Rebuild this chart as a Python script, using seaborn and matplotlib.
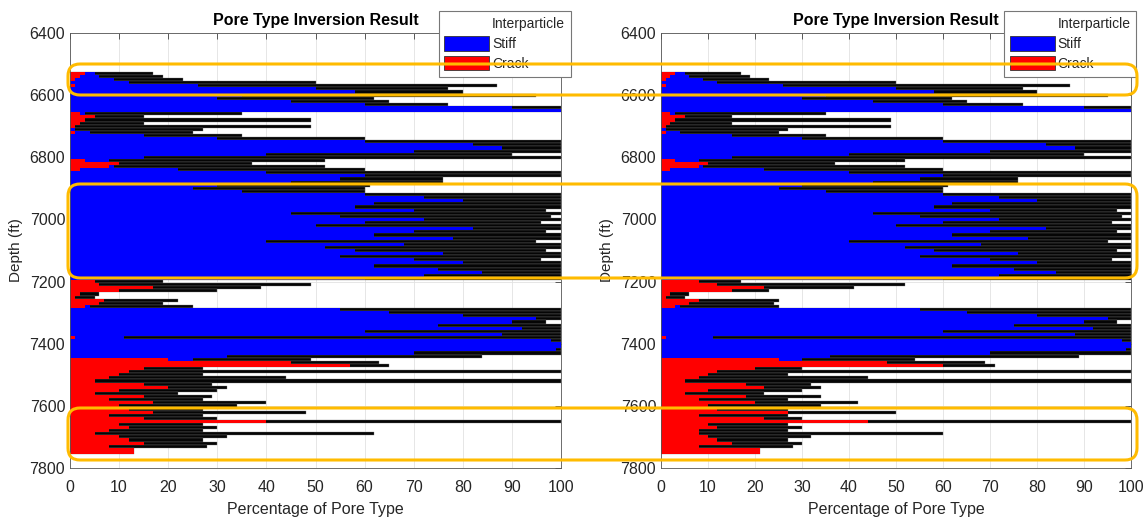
import pandas as pd
import matplotlib.pyplot as plt
import seaborn as sns
from matplotlib.patches import Patch, FancyBboxPatch
from matplotlib.transforms import IdentityTransform

# muestreo en profundidad (ft)
depth = list(range(6530, 7760, 10))

crack = [3, 2, 1, 0, 1, 0, 0, 0, 0, 0,
         0, 0, 0, 2, 5, 3, 2, 1, 0, 1,
         0, 0, 0, 0, 0, 0, 0, 0, 3, 10,
         8, 2, 0, 0, 0, 0, 0, 0, 0, 0,
         0, 0, 0, 0, 0, 0, 0, 0, 0, 0,
         0, 0, 0, 0, 0, 0, 0, 0, 0, 0,
         0, 0, 0, 0, 0, 0, 0, 5, 6, 17,
         10, 2, 1, 7, 6, 3, 0, 0, 0, 0,
         0, 0, 0, 0, 0, 1, 0, 0, 0, 0,
         0, 0, 20, 45, 57, 15, 12, 10, 8, 5,
         15, 20, 10, 5, 15, 8, 17, 10, 12, 17,
         8, 15, 40, 10, 12, 8, 5, 10, 12, 15,
         8, 13, 13]

stiff = [2, 4, 8, 12, 25, 50, 58, 35, 30, 45,
         60, 90, 100, 1, 0, 0, 0, 0, 1, 3,
         15, 30, 60, 82, 88, 70, 40, 15, 5, 0,
         1, 20, 40, 60, 55, 45, 30, 25, 35, 60,
         72, 80, 62, 58, 70, 45, 55, 72, 60, 50,
         82, 70, 62, 78, 40, 68, 52, 58, 76, 55,
         70, 80, 62, 75, 84, 72, 60, 0, 0, 0,
         0, 0, 0, 0, 0, 1, 55, 65, 80, 95,
         90, 75, 92, 60, 88, 10, 98, 100, 100, 99,
         70, 32, 5, 0, 0, 0, 0, 0, 0, 0,
         0, 0, 0, 0, 0, 0, 0, 0, 0, 0,
         0, 0, 0, 0, 0, 0, 0, 0, 0, 0,
         0, 0, 0]

# extremo de la barra de interparticula (crack + stiff + interparticle)
total = [17, 19, 23, 50, 87, 77, 80, 95, 62, 65,
         77, 100, 100, 35, 15, 49, 15, 49, 27, 25,
         35, 60, 100, 100, 100, 100, 90, 100, 52, 37,
         52, 60, 100, 100, 76, 76, 61, 60, 60, 100,
         100, 100, 100, 100, 97, 100, 98, 100, 96, 100,
         100, 97, 100, 100, 95, 100, 100, 97, 100, 100,
         96, 100, 100, 100, 100, 100, 100, 19, 49, 39,
         30, 6, 5, 22, 19, 25, 100, 100, 100, 100,
         97, 100, 100, 100, 100, 100, 100, 100, 100, 100,
         100, 84, 49, 63, 65, 27, 100, 27, 44, 100,
         29, 32, 30, 22, 29, 27, 40, 34, 27, 48,
         27, 30, 100, 27, 30, 27, 62, 32, 27, 30,
         28, 13, 13]

# profundidades donde el panel derecho difiere: (crack, stiff, total)
right_changes = {7200: (8, 0, 17), 7210: (12, 0, 52), 7220: (22, 0, 41),
                 7230: (15, 0, 23), 7260: (8, 0, 25), 7270: (6, 0, 24),
                 7440: (0, 36, 89), 7450: (25, 5, 54), 7460: (48, 0, 69),
                 7470: (60, 0, 71), 7480: (20, 0, 30), 7530: (18, 0, 32),
                 7540: (22, 0, 34), 7570: (18, 0, 34), 7590: (20, 0, 42),
                 7620: (27, 0, 50), 7640: (22, 0, 30), 7650: (44, 0, 100),
                 7690: (8, 0, 60), 7740: (21, 0, 21), 7750: (21, 0, 21)}

titulo = 'Pore Type Inversion Result'
TXT = '#262626'


def armar_df(crack, stiff, total, cambios=None):
    df = pd.DataFrame({'depth': depth, 'crack': crack, 'stiff': stiff, 'total': total})
    if cambios:
        for d, (c, s, t) in cambios.items():
            df.loc[df['depth'] == d, ['crack', 'stiff', 'total']] = [c, s, t]
    df['crack_stiff'] = df['crack'] + df['stiff']
    return df


def graficar_panel(ax, df, legend_x):
    comun = dict(data=df, y='depth', orient='h', native_scale=True,
                 errorbar=None, saturation=1, ax=ax)
    # barras muy densas en el original: los bordes negros se ven como relleno oscuro
    sns.barplot(x='total', width=1, color='#050505', edgecolor='#777777',
                linewidth=0.25, **comun)
    sns.barplot(x='crack_stiff', width=1, color='#0000ff', linewidth=0, **comun)
    sns.barplot(x='crack', width=1, color='#ff0000', linewidth=0, **comun)

    ax.set_xlim(0, 100)
    ax.set_ylim(7800, 6400)
    ax.set_xticks(range(0, 101, 10))
    ax.set_yticks(range(6400, 7801, 200))
    ax.set_axisbelow(True)
    ax.grid(True, color='#e2e2e2', linewidth=0.6)
    ax.tick_params(direction='in', top=True, right=True, length=4, width=0.6,
                   colors='#404040', labelcolor=TXT, labelsize=11.5)
    ax.tick_params(axis='x', pad=9)
    for sp in ax.spines.values():
        sp.set_color('#555555')
        sp.set_linewidth(0.6)
    ax.set_title(titulo, fontsize=11.5, fontweight='bold', color='black', pad=6)
    ax.set_xlabel('Percentage of Pore Type', fontsize=11.5, color=TXT, labelpad=5)
    ax.set_ylabel('Depth (ft)', fontsize=11, color=TXT, labelpad=5)

    handles = [Patch(facecolor='white', edgecolor='white', linewidth=0.6),
               Patch(facecolor='#0000ff', edgecolor='#333333', linewidth=0.6),
               Patch(facecolor='#ff0000', edgecolor='#333333', linewidth=0.6)]
    leg = ax.legend(handles, ['Interparticle', 'Stiff', 'Crack'],
                    loc='upper right', bbox_to_anchor=(legend_x, 1.0506), borderaxespad=0,
                    fontsize=10, handlelength=3.25, handleheight=1.2,
                    handletextpad=0.2, labelspacing=0.36, borderpad=0.4,
                    fancybox=False, framealpha=1, edgecolor='#777777')
    leg.get_frame().set_linewidth(0.8)


sns.set_style('white')
plt.rcParams['font.family'] = ['Liberation Sans', 'DejaVu Sans']

fig = plt.figure(figsize=(11.44, 5.22), dpi=100)
ax1 = fig.add_axes([70 / 1144, 54 / 522, 491 / 1144, 435 / 522])
ax2 = fig.add_axes([661 / 1144, 54 / 522, 470 / 1144, 435 / 522])

graficar_panel(ax1, armar_df(crack, stiff, total), 1.0196)
graficar_panel(ax2, armar_df(crack, stiff, total, right_changes), 1.0106)

# recuadros naranjas (coordenadas en pixeles de la imagen)
for top, bottom in [(64, 95), (184, 278), (408, 460)]:
    caja = FancyBboxPatch((68, 522 - bottom), 1137 - 68, bottom - top,
                          boxstyle='round,pad=0,rounding_size=12',
                          transform=IdentityTransform(), fill=False,
                          edgecolor='#ffbb00', linewidth=2.2, zorder=10)
    fig.patches.append(caja)

fig.savefig('out.png', dpi=100)
